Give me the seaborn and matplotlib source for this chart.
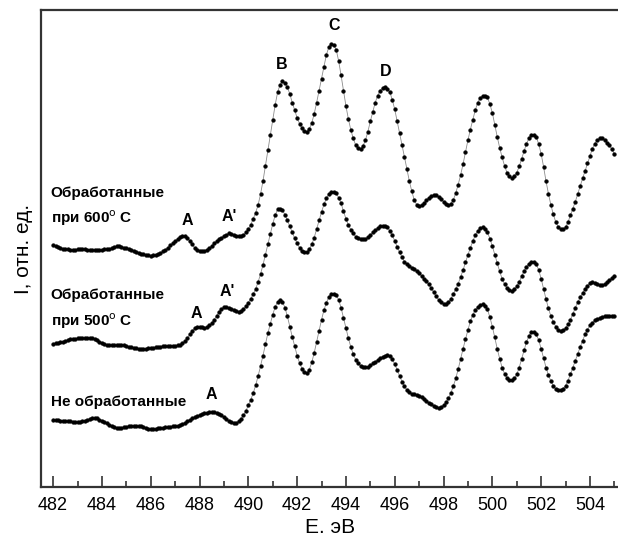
import numpy as np
import seaborn as sns
from matplotlib import pyplot as plt
from matplotlib.ticker import MultipleLocator

# energy grid, eV (step 0.1)
energy = np.round(np.arange(482.0, 505.001, 0.1), 1)

# intensities, arbitrary units, 10 values per eV
i_600 = [707, 705, 703, 700, 698, 697, 696, 695, 695, 695,   # 482
         696, 697, 697, 696, 695, 694, 693, 693, 694, 694,   # 483
         695, 696, 697, 698, 699, 702, 704, 705, 703, 701,   # 484
         699, 697, 695, 692, 689, 686, 683, 681, 679, 678,   # 485
         677, 678, 680, 682, 685, 690, 695, 701, 707, 714,   # 486
         720, 726, 732, 735, 735, 729, 720, 710, 700, 695,   # 487
         692, 690, 691, 695, 700, 706, 713, 719, 725, 730,   # 488
         735, 739, 742, 741, 739, 736, 734, 734, 737, 745,   # 489
         755, 768, 785, 803, 825, 857, 895, 940, 985, 1030,  # 490
         1075, 1118, 1155, 1177, 1187, 1182, 1170, 1150, 1125, 1102,  # 491
         1080, 1063, 1050, 1042, 1040, 1048, 1065, 1092, 1125, 1160,  # 492
         1195, 1230, 1265, 1287, 1297, 1293, 1280, 1247, 1205, 1160,  # 493
         1115, 1077, 1045, 1020, 1000, 991, 990, 998, 1015, 1040,     # 494
         1070, 1098, 1125, 1145, 1160, 1167, 1170, 1165, 1155, 1133,  # 495
         1105, 1070, 1035, 1000, 965, 930, 895, 865, 840, 826,        # 496
         822, 824, 830, 839, 847, 852, 855, 854, 850, 843,            # 497
         835, 828, 825, 829, 840, 860, 885, 913, 945, 980,            # 498
         1015, 1046, 1075, 1102, 1125, 1138, 1145, 1145, 1140, 1120,  # 499
         1095, 1060, 1025, 993, 965, 940, 920, 909, 905, 910,         # 500
         920, 938, 960, 983, 1005, 1020, 1030, 1030, 1025, 1003,      # 501
         975, 937, 895, 858, 825, 798, 775, 762, 755, 755,            # 502
         760, 775, 795, 815, 835, 858, 880, 903, 925, 948,            # 503
         970, 990, 1005, 1015, 1020, 1020, 1015, 1008, 1000, 988,     # 504
         975]

i_500 = [420, 421, 422, 424, 426, 428, 430, 432, 433, 434,
         435, 436, 436, 437, 437, 437, 437, 434, 430, 426,
         422, 419, 417, 416, 415, 415, 416, 417, 417, 415,
         413, 411, 409, 407, 406, 405, 405, 405, 405, 406,
         407, 408, 409, 410, 411, 412, 412, 413, 413, 414,
         414, 415, 417, 421, 427, 436, 447, 457, 465, 469,
         470, 469, 467, 468, 473, 480, 490, 501, 513, 521,
         527, 527, 525, 521, 517, 514, 512, 514, 520, 529,
         540, 551, 565, 580, 600, 623, 650, 680, 710, 740,
         770, 795, 813, 815, 810, 797, 780, 763, 745, 728,
         713, 700, 692, 688, 688, 696, 710, 730, 755, 780,
         805, 827, 845, 857, 863, 864, 860, 847, 830, 808,
         785, 767, 753, 742, 733, 728, 725, 725, 727, 731,
         737, 745, 752, 758, 763, 765, 765, 760, 750, 737,
         720, 703, 687, 672, 660, 653, 647, 642, 637, 631,
         625, 618, 610, 602, 593, 582, 570, 558, 548, 541,
         537, 537, 542, 551, 565, 580, 595, 615, 635, 658,
         680, 700, 720, 737, 750, 757, 760, 756, 745, 727,
         705, 680, 655, 631, 610, 594, 583, 577, 575, 579,
         587, 600, 617, 632, 645, 654, 659, 659, 653, 635,
         610, 580, 550, 523, 500, 483, 470, 461, 457, 459,
         465, 476, 490, 507, 525, 541, 555, 568, 580, 589,
         597, 599, 597, 593, 590, 590, 593, 599, 605, 612,
         619]

i_raw = [197, 196, 196, 195, 195, 194, 194, 193, 192, 191,
         191, 192, 193, 195, 197, 200, 202, 202, 201, 198,
         195, 191, 187, 183, 179, 176, 174, 173, 173, 175,
         177, 179, 180, 180, 180, 179, 178, 175, 173, 171,
         170, 170, 171, 172, 173, 174, 175, 176, 177, 178,
         179, 180, 182, 185, 189, 193, 197, 201, 205, 208,
         211, 214, 216, 218, 219, 220, 220, 218, 215, 210,
         205, 199, 193, 190, 188, 189, 193, 200, 210, 223,
         240, 256, 275, 298, 325, 354, 385, 418, 450, 478,
         505, 527, 543, 547, 543, 525, 500, 470, 440, 412,
         385, 363, 347, 337, 333, 344, 365, 393, 425, 458,
         490, 518, 540, 556, 565, 566, 563, 548, 525, 495,
         465, 436, 410, 389, 373, 362, 355, 352, 351, 353,
         357, 362, 367, 372, 377, 382, 385, 386, 383, 374,
         360, 343, 325, 309, 295, 284, 277, 274, 272, 270,
         267, 263, 259, 253, 247, 242, 237, 234, 233, 235,
         240, 248, 260, 276, 295, 318, 345, 375, 405, 433,
         460, 485, 505, 518, 527, 533, 535, 530, 520, 497,
         470, 438, 405, 376, 350, 332, 320, 315, 313, 318,
         330, 350, 375, 400, 425, 442, 453, 453, 447, 430,
         405, 378, 350, 328, 310, 297, 287, 283, 283, 288,
         297, 312, 330, 350, 370, 390, 410, 429, 447, 461,
         473, 481, 488, 492, 495, 498, 500, 501, 501, 501,
         501]

curve_labels = [("Обработанные\nпри 600$^{\\rm o}$ C", 481.9, 820),
                ("Обработанные\nпри 500$^{\\rm o}$ C", 481.9, 520),
                ("Не обработанные", 481.9, 250)]

peak_labels = [("A", 487.49, 780), ("A'", 489.24, 793),
               ("B", 491.37, 1235), ("C", 493.5, 1350), ("D", 495.62, 1215),
               ("A", 487.85, 507), ("A'", 489.14, 573),
               ("A", 488.5, 270)]

sns.set_style("ticks")
plt.rcParams['font.family'] = ['Liberation Sans', 'DejaVu Sans']

fig = plt.figure(figsize=(6.18, 5.36), dpi=100)
ax = fig.add_axes([0.067, 0.091, 0.933, 0.890])

for vals in (i_600, i_500, i_raw):
    sns.lineplot(x=energy, y=vals, ax=ax, color='0.55', lw=0.6,
                 marker='o', markersize=2.7, markerfacecolor='k',
                 markeredgecolor='k', markeredgewidth=0.3)

for txt, x, y in curve_labels:
    ax.text(x, y, txt, fontsize=11, fontweight='bold', ha='left', va='center',
            linespacing=1.6, color='k')

for txt, x, y in peak_labels:
    ax.text(x, y, txt, fontsize=11.5, fontweight='bold', ha='center', va='center',
            color='k')

ax.set_xlim(481.52, 505.15)
ax.set_ylim(0, 1395)
ax.xaxis.set_major_locator(MultipleLocator(2))
ax.xaxis.set_minor_locator(MultipleLocator(1))
ax.tick_params(axis='x', which='major', direction='in', length=8, width=1.2,
               labelsize=13, pad=7, color='#333333', labelcolor='k')
ax.tick_params(axis='x', which='minor', direction='in', length=4, width=1.2,
               color='#333333')
ax.set_yticks([])
ax.set_xlabel("E. эВ", fontsize=15, labelpad=3, color='k')
ax.set_ylabel("I, отн. ед.", fontsize=15, labelpad=6, color='k')

for side in ('top', 'left', 'bottom'):
    ax.spines[side].set_linewidth(1.6)
    ax.spines[side].set_color('#333333')
ax.spines['right'].set_visible(False)

fig.savefig("out.png", dpi=100)
